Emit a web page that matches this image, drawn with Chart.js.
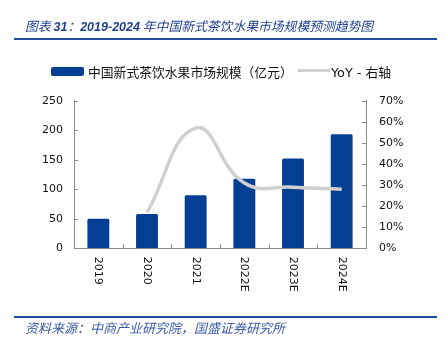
<!DOCTYPE html>
<html>
<head>
<meta charset="utf-8">
<script src="https://cdn.jsdelivr.net/npm/chart.js@4/dist/chart.umd.min.js"></script>
<style>
  html, body { margin: 0; padding: 0; background: #fff; }
  #page { position: relative; width: 446px; height: 350px; overflow: hidden; }
  #chart { position: absolute; left: 0; top: 0; }
  .title {
    position: absolute; left: 25px; top: 16px; white-space: nowrap;
    font: italic 12.8px "Noto Sans CJK SC", sans-serif; color: #1f3f8c;
  }
  .title b { font-family: "Liberation Sans", sans-serif; font-size: 12.5px; }
  .rule { position: absolute; left: 14px; width: 423px; background: #1f4e9c; }
  .legend {
    position: absolute; top: 62px; white-space: nowrap;
    font: 12.8px "Noto Sans CJK SC", sans-serif; color: #111;
  }
  .legend .latin { font-family: "DejaVu Sans", sans-serif; }
  .swatch { position: absolute; }
  .source {
    position: absolute; left: 25px; top: 318px; white-space: nowrap;
    font: italic 13px "Noto Sans CJK SC", sans-serif; color: #3a5aa6;
  }
</style>
</head>
<body>
<div id="page">
  <canvas id="chart" width="446" height="350"></canvas>
  <div class="title">图表 <b>31</b>：<b>2019-2024</b> 年中国新式茶饮水果市场规模预测趋势图</div>
  <div class="rule" style="top:38px;height:2px"></div>

  <div class="swatch" style="left:51px;top:67px;width:33px;height:9px;background:#053f93;border-radius:2px"></div>
  <div class="legend" style="left:88px">中国新式茶饮水果市场规模（亿元）</div>
  <div class="swatch" style="left:298px;top:69px;width:32px;height:3px;background:#d0d0d0"></div>
  <div class="legend" style="left:331px"><span class="latin">YoY - </span>右轴</div>

  <div class="rule" style="top:316px;height:1.5px"></div>
  <div class="source">资料来源：中商产业研究院，国盛证券研究所</div>
</div>
<script>
const categories = ["2019", "2020", "2021", "2022E", "2023E", "2024E"];
const marketSize = [50, 58, 90, 118, 152, 193];     // 亿元, left axis
const yoy = [null, 17, 57, 31, 29, 28];              // %, right axis
const leftTicks = [0, 50, 100, 150, 200, 250];
const rightTicks = [0, 10, 20, 30, 40, 50, 60, 70];

const AXIS_COLOR = "#8c8c8c";
const TICK_FONT = { family: "DejaVu Sans", size: 11 };

// Excel-style tick marks pointing into the plot, plus x labels rotated clockwise
const axisExtras = {
  id: "axisExtras",
  afterDatasetsDraw(chart) {
    const { ctx, chartArea: a, scales } = chart;
    ctx.save();
    ctx.strokeStyle = AXIS_COLOR;
    ctx.lineWidth = 1;
    ctx.beginPath();
    leftTicks.forEach((v) => {
      const y = Math.round(scales.y.getPixelForValue(v)) + 0.5;
      ctx.moveTo(a.left, y);
      ctx.lineTo(a.left + 4, y);
    });
    rightTicks.forEach((v) => {
      const y = Math.round(scales.y1.getPixelForValue(v)) + 0.5;
      ctx.moveTo(a.right, y);
      ctx.lineTo(a.right - 4, y);
    });
    const step = (a.right - a.left) / categories.length;
    for (let i = 1; i < categories.length; i++) {
      const x = Math.round(a.left + step * i) + 0.5;
      ctx.moveTo(x, a.bottom);
      ctx.lineTo(x, a.bottom - 4);
    }
    ctx.stroke();

    ctx.fillStyle = "#111";
    ctx.font = `${TICK_FONT.size}px "${TICK_FONT.family}"`;
    ctx.textAlign = "left";
    ctx.textBaseline = "middle";
    categories.forEach((label, i) => {
      const x = scales.x.getPixelForValue(i);
      ctx.save();
      ctx.translate(x, a.bottom + 8.5);
      ctx.rotate(Math.PI / 2);
      ctx.fillText(label, 0, 0);
      ctx.restore();
    });
    ctx.restore();
  },
};

new Chart(document.getElementById("chart"), {
  data: {
    labels: categories,
    datasets: [
      {
        type: "line",
        label: "YoY - 右轴",
        data: yoy,
        yAxisID: "y1",
        borderColor: "#d0d0d0",
        borderWidth: 3.5,
        pointRadius: 0,
        tension: 0.45,
        order: 0,
      },
      {
        type: "bar",
        label: "中国新式茶饮水果市场规模（亿元）",
        data: marketSize,
        yAxisID: "y",
        backgroundColor: "#053f93",
        borderRadius: 1.5,
        barPercentage: 0.45,
        categoryPercentage: 1,
        order: 1,
      },
    ],
  },
  options: {
    responsive: false,
    animation: false,
    layout: { padding: { top: 100.7, left: 0, right: 0, bottom: 0 } },
    plugins: { legend: { display: false }, tooltip: { enabled: false } },
    scales: {
      x: {
        grid: { display: false, drawTicks: false },
        border: { display: true, color: AXIS_COLOR, width: 1 },
        ticks: { display: false },
        afterFit: (scale) => { scale.height = 101.7; },
      },
      y: {
        position: "left",
        min: 0,
        max: 250,
        afterBuildTicks: (scale) => { scale.ticks = leftTicks.map((v) => ({ value: v })); },
        grid: { display: false, drawTicks: false },
        border: { display: true, color: AXIS_COLOR, width: 1 },
        ticks: { color: "#111", font: TICK_FONT, padding: 11 },
        afterFit: (scale) => { scale.width = 74; },
      },
      y1: {
        position: "right",
        min: 0,
        max: 70,
        afterBuildTicks: (scale) => { scale.ticks = rightTicks.map((v) => ({ value: v })); },
        grid: { display: false, drawTicks: false },
        border: { display: true, color: AXIS_COLOR, width: 1 },
        ticks: { color: "#111", font: TICK_FONT, padding: 13, callback: (v) => v + "%" },
        afterFit: (scale) => { scale.width = 80; },
      },
    },
  },
  plugins: [axisExtras],
});
</script>
</body>
</html>
